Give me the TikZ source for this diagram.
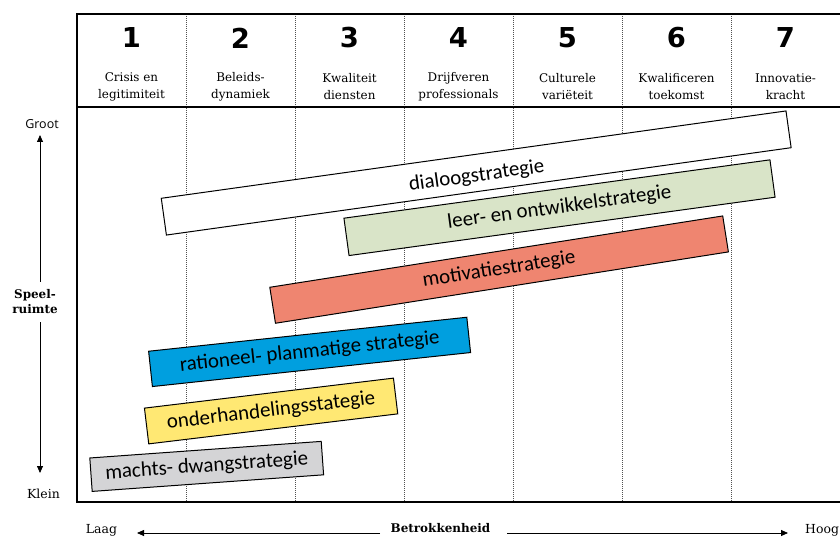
\documentclass[tikz,border=0pt]{standalone}
\usepackage{fontspec}
\usetikzlibrary{arrows.meta}
\newfontfamily\barfont{Carlito}
\newfontfamily\slabfont{DejaVu Serif}
\newfontfamily\numfont{DejaVu Sans}
\newfontfamily\grootfont{Open Sans}
\definecolor{barwhite}{HTML}{FFFFFF}
\definecolor{bargreen}{HTML}{D9E4C8}
\definecolor{barred}{HTML}{EF8570}
\definecolor{barblue}{HTML}{009FDF}
\definecolor{baryellow}{HTML}{FFE873}
\definecolor{bargray}{HTML}{D4D4D6}
\definecolor{dotgray}{HTML}{505050}
\tikzset{
  frameline/.style={line width=1.1bp, black},
  colline/.style={line width=0.7bp, dotgray, dash pattern=on 1bp off 1bp},
  numlabel/.style={font=\numfont\bfseries\fontsize{27.5}{30}\selectfont, inner sep=0pt},
  headlabel/.style={font=\slabfont\fontsize{12}{17}\selectfont, align=center, inner sep=0pt},
  axlabel/.style={font=\slabfont\fontsize{12.5}{15}\selectfont, inner sep=0pt},
  axbold/.style={font=\slabfont\bfseries\fontsize{12}{15}\selectfont, inner sep=0pt, align=center},
  axarrow/.style={line width=0.8bp, black, -{Triangle[width=6bp,length=7bp]}},
  bar/.style={draw=black, line width=1bp, inner sep=0pt, font=\barfont\fontsize{21}{24}\selectfont}
}
\begin{document}
\begin{tikzpicture}[x=1bp,y=-1bp]
\useasboundingbox (0,0) rectangle (840,538);
% column dotted lines
\foreach \cx in {186,295,404,513,622,731}{
  \draw[colline] (\cx,14) -- (\cx,502);
}
% frame
\draw[frameline] (840,14) -- (77,14) -- (77,502) -- (840,502);
\draw[frameline] (77,107) -- (840,107);
% header
\foreach \i/\cx/\la/\lb in {1/131.5/Crisis en/legitimiteit, 2/240.5/Beleids-/dynamiek, 3/349.5/Kwaliteit/diensten, 4/458.5/Drijfveren/professionals, 5/567.5/Culturele/variëteit, 6/676.5/Kwalificeren/toekomst, 7/785.5/Innovatie-/kracht}{
  \node[numlabel] (n\i) at (\cx,38) {\i};
  \node[headlabel] (h\i) at (\cx,87) {\la\\\lb};
}
% bars
\node[bar, fill=barwhite, minimum width=630.8bp, minimum height=37.1bp, rotate=7.96, text height=18bp, text depth=1bp] (dialoog) at (476.2,173) {dialoogstrategie};
\node[bar, fill=bargreen, minimum width=430bp, minimum height=37.7bp, rotate=7.8] (leer) at (559.5,207.7) {leer- en ontwikkelstrategie};
\node[bar, fill=barred, minimum width=458.5bp, minimum height=36.4bp, rotate=8.95] (motiv) at (499.1,269.6) {motivatiestrategie};
\node[bar, fill=barblue, minimum width=320bp, minimum height=35.5bp, rotate=6.1] (ratio) at (309.6,351.9) {rationeel- planmatige strategie};
\node[bar, fill=baryellow, minimum width=250.8bp, minimum height=36bp, rotate=6.87] (onder) at (271.1,411) {onderhandelingsstategie};
\node[bar, fill=bargray, minimum width=232bp, minimum height=33.5bp, rotate=4.1] (macht) at (206.7,466.4) {machts- dwangstrategie};
% vertical axis
\node[font=\grootfont\fontsize{12.5}{15}\selectfont, inner sep=0pt] (groot) at (42,124) {Groot};
\node[axlabel] (klein) at (43.5,494) {Klein};
\node[axbold] (speel) at (35,302) {Speel-\\ruimte};
\coordinate (vtop) at (40,135);
\coordinate (vbot) at (40,473);
\draw[axarrow] (speel.north -| vtop) ++(0,-8) -- (vtop);
\draw[axarrow] (speel.south -| vbot) ++(0,8) -- (vbot);
% horizontal axis
\node[axlabel] (laag) at (101.5,530) {Laag};
\node[axbold] (betr) at (440.5,528) {Betrokkenheid};
\node[axlabel, anchor=west] (hoog) at (805,530) {Hoog};
\coordinate (hleft) at (137,533);
\coordinate (hright) at (788,533);
\draw[axarrow] (380,533) -- (hleft);
\draw[axarrow] (507,533) -- (hright);
\end{tikzpicture}
\end{document}
